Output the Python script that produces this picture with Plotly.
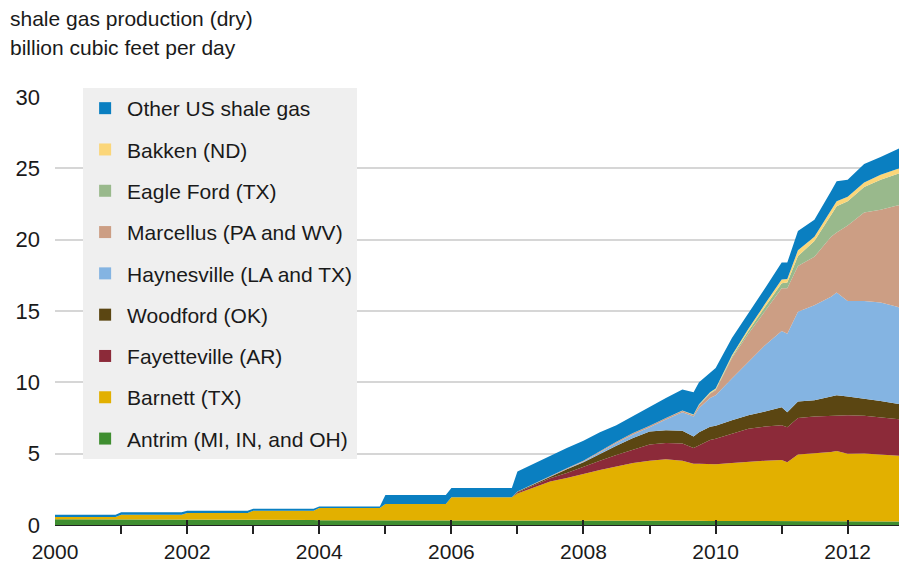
import plotly.graph_objects as go

# monthly readings (annual steps before 2007)
dates = ['2000-01-01', '2000-12-01', '2001-01-01', '2001-12-01', '2002-01-01', '2002-12-01',
         '2003-01-01', '2003-12-01', '2004-01-01', '2004-12-01', '2005-01-01', '2005-12-01',
         '2006-01-01', '2006-12-01', '2007-01-01', '2007-04-01', '2007-07-01', '2007-10-01',
         '2008-01-01', '2008-04-01', '2008-07-01', '2008-10-01', '2009-01-01', '2009-04-01',
         '2009-07-01', '2009-09-01', '2009-10-01', '2009-12-01', '2010-01-01', '2010-04-01',
         '2010-07-01', '2010-10-01', '2011-01-01', '2011-02-01', '2011-04-01', '2011-07-01',
         '2011-10-01', '2011-11-01', '2012-01-01', '2012-04-01', '2012-07-01', '2012-10-01',
         '2012-12-01']

antrim = [.40, .40, .38, .38, .37, .37, .35, .35, .34, .34, .34, .34, .33, .33,
          .33, .32, .32, .31, .30, .30, .30, .30, .30, .29, .29, .29, .29, .28, .28,
          .28, .27, .27, .27, .27, .27, .26, .26, .26, .25, .25, .25, .25, .25]
barnett = [.16, .16, .34, .34, .47, .47, .65, .65, .85, .85, 1.13, 1.13, 1.62, 1.62,
           1.87, 2.28, 2.73, 2.99, 3.25, 3.55, 3.80, 4.05, 4.20, 4.31, 4.21, 4.01, 4.01, 4.02, 3.97,
           4.07, 4.18, 4.23, 4.29, 4.13, 4.68, 4.76, 4.86, 4.92, 4.75, 4.77, 4.70, 4.60, 4.55]
fayetteville = [0] * 14 + [.08, .15, .22, .35, .50, .65, .80, .95, 1.15, 1.15, 1.22, 1.10, 1.30, 1.65, 1.80,
                           2.05, 2.30, 2.40, 2.44, 2.45, 2.55, 2.58, 2.53, 2.52, 2.70, 2.63, 2.60, 2.60, 2.55]
woodford = [0] * 14 + [.05, .10, .15, .25, .35, .50, .65, .80, .90, .90, .88, .80, .90, .93, .90,
                       .95, .95, 1.05, 1.25, 1.05, 1.15, 1.14, 1.35, 1.40, 1.30, 1.21, 1.15, 1.05, 1.05]
haynesville = [0] * 14 + [0, .01, .02, .03, .05, .12, .20, .25, .30, .75, 1.30, 1.40, 1.70, 2.02, 2.15,
                          2.91, 3.70, 4.65, 5.35, 5.50, 6.30, 6.66, 7.00, 7.20, 6.70, 6.84, 6.90, 6.80, 6.60]
marcellus = [0] * 14 + [.01, .02, .03, .05, .06, .08, .08, .10, .10, .10, .10, .10, .20, .30, .35,
                        1.44, 2.00, 2.40, 3.00, 3.20, 3.20, 3.40, 4.20, 4.20, 5.30, 6.20, 6.50, 7.10, 7.50]
eagle_ford = [0] * 24 + [0, .02, .03, .04, .05, .10, .20, .30, .35, .40,
                         .70, 1.10, 1.60, 1.85, 1.70, 1.80, 2.10, 2.20, 2.30]
bakken = [0] * 24 + [.02, .03, .04, .06, .06, .10, .15, .20, .25, .25,
                     .40, .30, .30, .35, .30, .30, .35, .35, .35]
other = [.16, .16, .18, .18, .16, .16, .14, .14, .11, .11, .63, .63, .65, .65,
         1.41, 1.42, 1.41, 1.42, 1.39, 1.30, 1.17, 1.20, 1.30, 1.40, 1.48, 1.55, 1.53, 1.40, 1.44,
         1.20, 1.05, 1.10, 1.20, 1.15, 1.35, 1.20, 1.30, 1.40, 1.20, 1.30, 1.25, 1.40, 1.55]

# bottom of the stack first
series = [
    ('Antrim (MI, IN, and OH)', antrim, '#3f8e30'),
    ('Barnett (TX)', barnett, '#e2b000'),
    ('Fayetteville (AR)', fayetteville, '#8c2a39'),
    ('Woodford (OK)', woodford, '#5b4612'),
    ('Haynesville (LA and TX)', haynesville, '#84b4e2'),
    ('Marcellus (PA and WV)', marcellus, '#cc9e84'),
    ('Eagle Ford (TX)', eagle_ford, '#99b98c'),
    ('Bakken (ND)', bakken, '#fbd679'),
    ('Other US shale gas', other, '#0a7fc1'),
]

fig = go.Figure()
for name, vals, col in series:
    fig.add_trace(go.Scatter(x=dates, y=vals, name=name, stackgroup='shale', mode='lines',
                             line=dict(width=0, color=col), fillcolor=col,
                             showlegend=False, hoverinfo='x+y+name'))

# legend entries, top of stack listed first
for i, (name, vals, col) in enumerate(reversed(series)):
    fig.add_trace(go.Scatter(x=[None], y=[None], mode='markers', name=name,
                             legendgroup=name, legendrank=i + 1,
                             marker=dict(symbol='square', size=12, color=col)))

font = 'Liberation Sans, Arial, sans-serif'

# the page body has an 8px margin, so the figure is sized/offset to fill the window
fig.update_layout(
    width=899, height=555,
    margin=dict(l=47, r=0, t=89, b=36),
    paper_bgcolor='white', plot_bgcolor='white',
    font=dict(family=font, size=21, color='#1a1a1a'),
    showlegend=True,
    legend=dict(x=0.033, y=1.021, xanchor='left', yanchor='top', maxheight=420,
                bgcolor='#efefef', borderwidth=0, traceorder='grouped', itemwidth=34,
                tracegroupgap=11, font=dict(size=21, color='#1a1a1a')),
    xaxis=dict(type='date', range=['2000-01-01', '2012-11-24'],
               dtick='M24', tickformat='%Y', showgrid=False, zeroline=False,
               showline=True, linecolor='#222222', linewidth=1,
               ticks='inside', ticklen=5, tickwidth=2, tickcolor='#222222',
               ticklabelstandoff=8, tickfont=dict(size=21),
               minor=dict(dtick='M12', ticks='outside', ticklen=8, tickwidth=2, tickcolor='#222222')),
    yaxis=dict(range=[0, 30], dtick=5, showgrid=True, gridcolor='#d6d6d6', gridwidth=2,
               zeroline=False, showline=False, ticks='', ticklabelstandoff=14,
               tickfont=dict(size=22)),
)

fig.add_annotation(text='shale gas production (dry)', xref='paper', yref='paper',
                   x=-0.0552, y=1.1837, xanchor='left', yanchor='middle', showarrow=False,
                   font=dict(size=21))
fig.add_annotation(text='billion cubic feet per day', xref='paper', yref='paper',
                   x=-0.0552, y=1.1163, xanchor='left', yanchor='middle', showarrow=False,
                   font=dict(size=21))

fig.write_html('out.html')
